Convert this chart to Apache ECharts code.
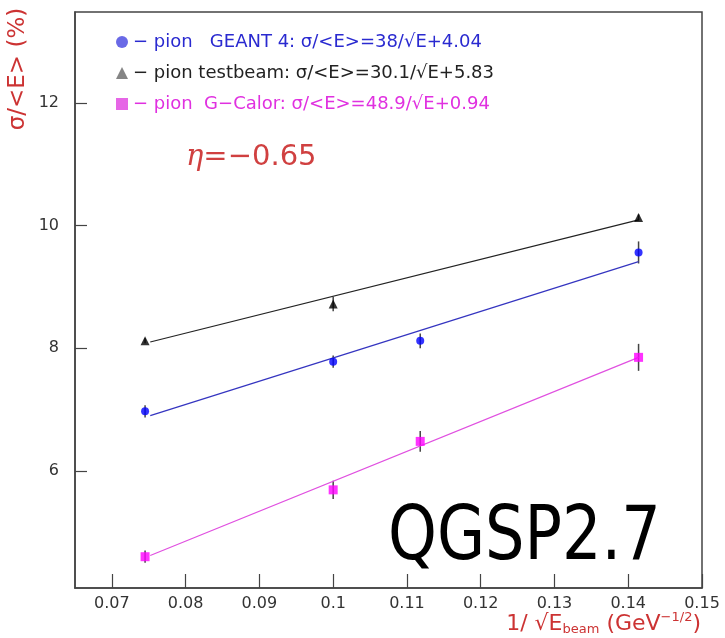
<!DOCTYPE html>
<html>
<head>
<meta charset="utf-8">
<script src="https://cdn.jsdelivr.net/npm/echarts@6/dist/echarts.min.js"></script>
<style>html,body{margin:0;padding:0;background:#fff}#c{width:725px;height:638px}</style>
</head>
<body>
<div id="c"></div>
<script>
// ---- data ----
const xVals = [0.0745, 0.1, 0.1118, 0.1414];          // 1/sqrt(E_beam)
const geantY = [6.97, 7.78, 8.12, 9.56];
const geantErr = [0.10, 0.10, 0.12, 0.18];
const tbX = [0.0745, 0.1, 0.1414];
const tbY = [8.12, 8.72, 10.13];
const tbErr = [0.04, 0.12, 0.05];
const gcalY = [4.60, 5.69, 6.48, 7.85];
const gcalErr = [0.10, 0.15, 0.17, 0.22];
const fitX = [0.0752, 0.1414];
const fitGeant = [6.90, 9.41];
const fitTb = [8.10, 10.09];
const fitGcal = [4.62, 7.85];
const xTicks = [0.07, 0.08, 0.09, 0.1, 0.11, 0.12, 0.13, 0.14, 0.15];
const yTicks = [6, 8, 10, 12];
const legendNames = [
  '\u2212 pion   GEANT 4: \u03c3/<E>=38/\u221aE+4.04',
  '\u2212 pion testbeam: \u03c3/<E>=30.1/\u221aE+5.83',
  '\u2212 pion  G\u2212Calor: \u03c3/<E>=48.9/\u221aE+0.94'
];

const BLUE = '#0000ff', BLACK = '#000000', MAG = '#ff00ff';
const FONT = 'DejaVu Sans';

function pts(xs, ys) { return xs.map((x, i) => [x, ys[i]]); }
function bars(xs, ys, es) { return xs.map((x, i) => [x, ys[i] - es[i], ys[i] + es[i]]); }
function errSeries(data) {
  return {
    type: 'custom', z: 2, silent: true,
    renderItem: function (params, api) {
      const p1 = api.coord([api.value(0), api.value(1)]);
      const p2 = api.coord([api.value(0), api.value(2)]);
      return { type: 'line', shape: { x1: p1[0], y1: p1[1], x2: p2[0], y2: p2[1] },
        style: { stroke: '#444', lineWidth: 1.5 } };
    },
    data: data
  };
}

const chart = echarts.init(document.getElementById('c'), null, { renderer: 'canvas' });
chart.setOption({
  animation: false,
  backgroundColor: '#fff',
  grid: { left: 75, right: 23, top: 12, bottom: 50, show: true, borderColor: '#444', borderWidth: 1.5 },
  legend: {
    orient: 'vertical', left: 111, top: 28, itemWidth: 12, itemHeight: 12, itemGap: 13,
    selectedMode: false,
    textStyle: { fontFamily: FONT, fontSize: 18 },
    data: [
      { name: legendNames[0], icon: 'circle', itemStyle: { color: '#4444e0' }, textStyle: { color: '#2a2ad0' } },
      { name: legendNames[1], icon: 'triangle', itemStyle: { color: '#666' }, textStyle: { color: '#222' } },
      { name: legendNames[2], icon: 'rect', itemStyle: { color: '#e040e0' }, textStyle: { color: '#e030e0' } }
    ]
  },
  xAxis: {
    type: 'value', min: 0.065, max: 0.15,
    axisLine: { lineStyle: { color: '#444', width: 1.5 } },
    axisTick: { inside: true, length: 14, customValues: xTicks, lineStyle: { color: '#444', width: 1.2 } },
    axisLabel: { customValues: xTicks, color: '#333', fontFamily: FONT, fontSize: 16, margin: 8,
      formatter: v => String(+v.toFixed(3)) },
    splitLine: { show: false }
  },
  yAxis: {
    type: 'value', min: 4.09, max: 13.48,
    axisLine: { show: true, lineStyle: { color: '#444', width: 1.5 } },
    axisTick: { show: true, inside: true, length: 12, customValues: yTicks, lineStyle: { color: '#444', width: 1.2 } },
    axisLabel: { customValues: yTicks, color: '#333', fontFamily: FONT, fontSize: 16, margin: 16 },
    splitLine: { show: false }
  },
  graphic: [
    { type: 'text', x: 18, y: 69, rotation: Math.PI / 2,
      style: { text: '\u03c3/<E> (%)', fill: '#cc3333', font: '23px "DejaVu Sans"', align: 'center', verticalAlign: 'middle' } },
    { type: 'text', x: 186, y: 157,
      style: { text: '{i|\u03b7}=\u22120.65', fill: '#d04040', font: '29px "DejaVu Sans"', verticalAlign: 'middle',
        rich: { i: { fontStyle: 'italic', fontSize: 29, fill: '#d04040', fontFamily: 'DejaVu Serif' } } } },
    { type: 'text', x: 701, y: 624,
      style: { text: '1/ \u221aE{s|beam} (GeV{p|\u22121/2})', fill: '#cc3333', font: '22px "DejaVu Sans"', align: 'right', verticalAlign: 'middle',
        rich: { s: { fontSize: 13, fill: '#cc3333', fontFamily: FONT, padding: [12, 0, 0, 0] },
                p: { fontSize: 13, fill: '#cc3333', fontFamily: FONT, padding: [0, 0, 12, 0] } } } },
    { type: 'text', x: 388, y: 540, scaleX: 0.84,
      style: { text: 'QGSP2.7', fill: '#000', font: '74px "DejaVu Sans"', verticalAlign: 'middle' } }
  ],
  series: [
    errSeries(bars(xVals, geantY, geantErr)),
    errSeries(bars(tbX, tbY, tbErr)),
    errSeries(bars(xVals, gcalY, gcalErr)),
    { type: 'line', data: pts(fitX, fitGeant), symbol: 'none', lineStyle: { color: '#3535c0', width: 1.2 }, z: 3, silent: true },
    { type: 'line', data: pts(fitX, fitTb), symbol: 'none', lineStyle: { color: '#222', width: 1.2 }, z: 3, silent: true },
    { type: 'line', data: pts(fitX, fitGcal), symbol: 'none', lineStyle: { color: '#e050e0', width: 1.2 }, z: 3, silent: true },
    { name: legendNames[0], type: 'scatter', data: pts(xVals, geantY), symbol: 'circle', symbolSize: 8, itemStyle: { color: BLUE }, z: 4 },
    { name: legendNames[1], type: 'scatter', data: pts(tbX, tbY), symbol: 'triangle', symbolSize: 9, itemStyle: { color: BLACK }, z: 4 },
    { name: legendNames[2], type: 'scatter', data: pts(xVals, gcalY), symbol: 'rect', symbolSize: 9, itemStyle: { color: MAG }, z: 4 }
  ]
});
</script>
</body>
</html>
